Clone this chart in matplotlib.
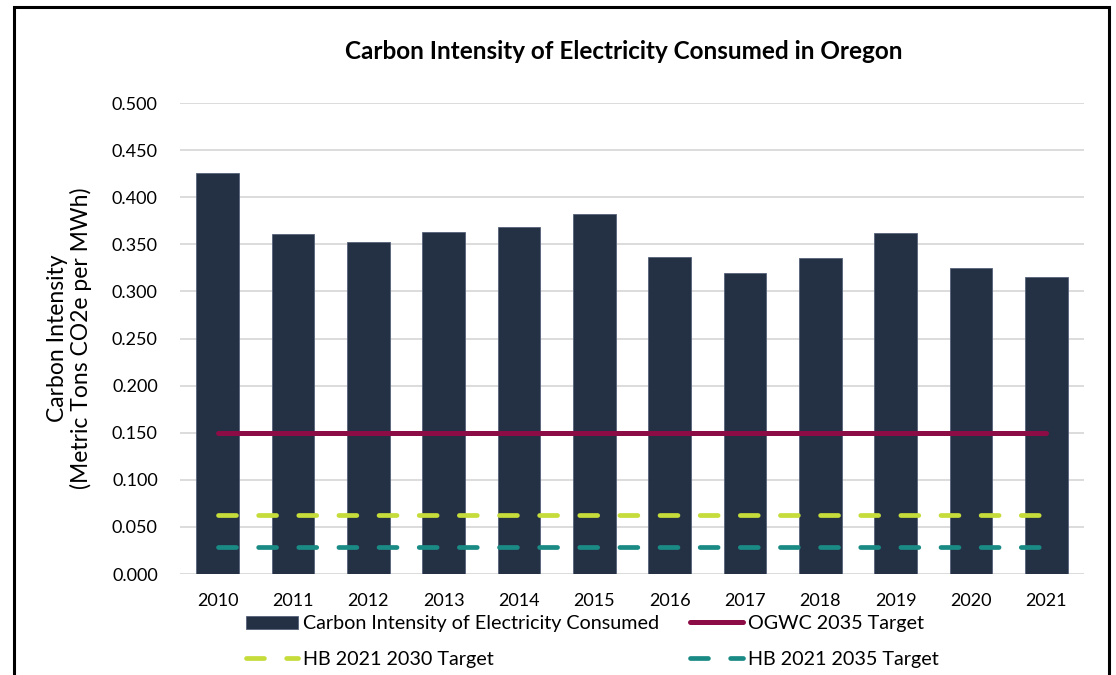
"""Carbon intensity of electricity consumed in Oregon, with policy targets."""

import matplotlib

matplotlib.use("Agg")

import matplotlib.pyplot as plt
import numpy as np
from matplotlib.patches import Rectangle

plt.rcParams["font.family"] = ["Lato", "DejaVu Sans"]

years = ["2010", "2011", "2012", "2013", "2014", "2015",
         "2016", "2017", "2018", "2019", "2020", "2021"]
intensity = [0.426, 0.361, 0.352, 0.363, 0.368, 0.382,
             0.337, 0.320, 0.335, 0.362, 0.325, 0.315]
ogwc_2035 = [0.150] * len(years)
hb_2030 = [0.063] * len(years)
hb_2035 = [0.029] * len(years)

y_ticks = np.arange(0, 0.501, 0.05)

BAR_COLOR = "#243145"
OGWC_COLOR = "#8c0c45"
HB2030_COLOR = "#c6dc3a"
HB2035_COLOR = "#1a8a85"

fig = plt.figure(figsize=(11.16, 6.75), dpi=100)
ax = fig.add_axes([0.1613, 0.1496, 0.81, 0.6978])

x = np.arange(len(years))
bars = ax.bar(x, intensity, width=0.57, color=BAR_COLOR,
              edgecolor="#56627a", linewidth=0.6, zorder=2,
              label="Carbon Intensity of Electricity Consumed")
(ogwc_line,) = ax.plot(x, ogwc_2035, color=OGWC_COLOR, linewidth=3.6,
                       solid_capstyle="round", zorder=3,
                       label="OGWC 2035 Target")
dash = (0, (3.8, 4.7))
(hb30_line,) = ax.plot(x, hb_2030, color=HB2030_COLOR, linewidth=3.4,
                       linestyle=dash, dash_capstyle="round", zorder=3,
                       label="HB 2021 2030 Target")
(hb35_line,) = ax.plot(x, hb_2035, color=HB2035_COLOR, linewidth=3.4,
                       linestyle=dash, dash_capstyle="round", zorder=3,
                       label="HB 2021 2035 Target")

ax.set_xlim(-0.5, len(years) - 0.5)
ax.set_ylim(0, 0.5)
ax.set_yticks(y_ticks)
ax.set_yticklabels([f"{v:.3f}" for v in y_ticks])
ax.set_xticks(x)
ax.set_xticklabels(years)
ax.tick_params(axis="both", length=0, labelsize=13, colors="#000000")
ax.tick_params(axis="x", pad=14)
ax.tick_params(axis="y", pad=16)
ax.grid(axis="y", color="#d9d9d9", linewidth=1.3, zorder=0)
ax.set_axisbelow(True)
for spine in ax.spines.values():
    spine.set_visible(False)

ax.set_ylabel("Carbon Intensity\n(Metric Tons CO2e per MWh)", fontsize=16.5,
              labelpad=14, linespacing=1.1)
fig.text(0.559, 0.923, "Carbon Intensity of Electricity Consumed in Oregon",
         ha="center", va="center", fontsize=17.5, fontweight="bold")

fig.legend(handles=[bars, hb30_line, ogwc_line, hb35_line], ncol=2,
           loc="upper left", bbox_to_anchor=(0.213, 0.1),
           frameon=False, fontsize=14.2, handlelength=2.65, handletextpad=0.25,
           columnspacing=1.6, labelspacing=0.95, borderaxespad=0)

# black frame around the whole chart area
fig.patches.append(Rectangle((0.0125, -0.05), 0.981, 1.039,
                             transform=fig.transFigure, fill=False,
                             edgecolor="#000000", linewidth=2.2))

fig.savefig("out.png", dpi=100)
